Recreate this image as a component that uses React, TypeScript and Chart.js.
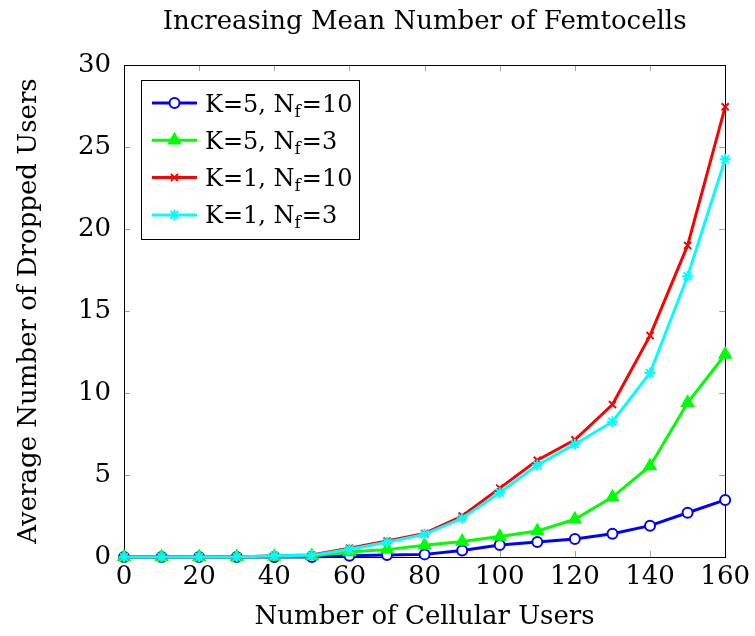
import React, { useEffect, useRef } from "react";
import { Chart, registerables } from "chart.js";
import { drawPoint } from "chart.js/helpers";

Chart.register(...registerables);

const FONT = "'DejaVu Serif', serif";

const cellularUsers = [0, 10, 20, 30, 40, 50, 60, 70, 80, 90, 100, 110, 120, 130, 140, 150, 160];
const k5nf10 = [0, 0, 0, 0, 0, 0, 0.08, 0.12, 0.16, 0.39, 0.73, 0.91, 1.1, 1.42, 1.91, 2.7, 3.48];
const k5nf3 = [0, 0, 0, 0, 0.03, 0.06, 0.3, 0.45, 0.72, 0.95, 1.25, 1.58, 2.3, 3.65, 5.55, 9.4, 12.35];
const k1nf10 = [0, 0, 0, 0, 0.08, 0.12, 0.53, 0.97, 1.44, 2.5, 4.2, 5.9, 7.15, 9.3, 13.5, 19.0, 27.45];
const k1nf3 = [0, 0, 0, 0, 0.07, 0.1, 0.47, 0.9, 1.38, 2.36, 3.92, 5.6, 6.88, 8.25, 11.22, 17.12, 24.25];

const seriesLabels = ["K=5, Nf=10", "K=5, Nf=3", "K=1, Nf=10", "K=1, Nf=3"];
const seriesColors = ["#0000ff", "#00ff00", "#ff0000", "#00ffff"];
const xTicks = [0, 20, 40, 60, 80, 100, 120, 140, 160];
const yTicks = [0, 5, 10, 15, 20, 25, 30];

const titleText = "Increasing Mean Number of Femtocells";
const xTitle = "Number of Cellular Users";
const yTitle = "Average Number of Dropped Users";

const markerStyles = [
  { pointStyle: "circle", radius: 5, fill: "#ffffff" },
  { pointStyle: "triangle", radius: 6.5, fill: null },
  { pointStyle: "crossRot", radius: 5, fill: null },
  { pointStyle: "star", radius: 5.5, fill: null },
];

const frameTicksPlugin = {
  id: "frameTicks",
  beforeDatasetsDraw(chart: any) {
    const { ctx, chartArea } = chart;
    const { left, right, top, bottom } = chartArea;
    const xs = chart.scales.x;
    const ys = chart.scales.y;
    ctx.save();
    ctx.strokeStyle = "#a0a0a0";
    ctx.lineWidth = 1;
    const tl = 6;
    ctx.beginPath();
    xTicks.forEach((v) => {
      const px = Math.round(xs.getPixelForValue(v)) + 0.5;
      ctx.moveTo(px, bottom);
      ctx.lineTo(px, bottom - tl);
      ctx.moveTo(px, top);
      ctx.lineTo(px, top + tl);
    });
    yTicks.forEach((v) => {
      const py = Math.round(ys.getPixelForValue(v)) + 0.5;
      ctx.moveTo(left, py);
      ctx.lineTo(left + tl, py);
      ctx.moveTo(right, py);
      ctx.lineTo(right - tl, py);
    });
    ctx.stroke();
    ctx.strokeStyle = "#000000";
    ctx.lineWidth = 1;
    ctx.strokeRect(Math.round(left) + 0.5, Math.round(top) + 0.5, Math.round(right - left), Math.round(bottom - top));
    ctx.restore();
  },
  afterDatasetsDraw(chart: any) {
    const { ctx, chartArea } = chart;
    const bx = chartArea.left + 17;
    const by = chartArea.top + 15;
    const bw = 218;
    const bh = 159;
    ctx.save();
    ctx.fillStyle = "#ffffff";
    ctx.fillRect(bx, by, bw, bh);
    ctx.strokeStyle = "#000000";
    ctx.lineWidth = 1;
    ctx.strokeRect(Math.round(bx) + 0.5, Math.round(by) + 0.5, bw, bh);
    chart.data.datasets.forEach((ds: any, i: number) => {
      const cy = by + 23 + i * 37.3;
      const x0 = bx + 11;
      const x1 = bx + 56;
      ctx.strokeStyle = ds.borderColor;
      ctx.lineWidth = 3;
      ctx.beginPath();
      ctx.moveTo(x0, cy);
      ctx.lineTo(x1, cy);
      ctx.stroke();
      const m = markerStyles[i];
      ctx.fillStyle = m.fill || ds.borderColor;
      ctx.strokeStyle = ds.borderColor;
      ctx.lineWidth = 2;
      drawPoint(ctx, { pointStyle: m.pointStyle, radius: m.radius, borderWidth: 2, rotation: 0 } as any, (x0 + x1) / 2, cy);
      const label: string = ds.label;
      const parts = label.split("Nf");
      ctx.fillStyle = "#000000";
      ctx.textBaseline = "alphabetic";
      ctx.textAlign = "left";
      ctx.font = `24px ${FONT}`;
      let tx = bx + 64;
      const base = cy + 8.5;
      const p1 = parts[0] + "N";
      ctx.fillText(p1, tx, base);
      tx += ctx.measureText(p1).width;
      ctx.font = `17px ${FONT}`;
      ctx.fillText("f", tx, base + 5);
      tx += ctx.measureText("f").width + 1;
      ctx.font = `24px ${FONT}`;
      ctx.fillText(parts[1], tx, base);
    });
    ctx.restore();
  },
};

export default function App() {
  const ref = useRef<HTMLCanvasElement | null>(null);
  useEffect(() => {
    document.body.style.margin = "0";
    const canvas = ref.current;
    if (!canvas) return;
    const seriesValues = [k5nf10, k5nf3, k1nf10, k1nf3];
    const datasets = seriesValues.map((vals, i) => ({
      label: seriesLabels[i],
      data: cellularUsers.map((x, j) => ({ x, y: vals[j] })),
      borderColor: seriesColors[i],
      backgroundColor: markerStyles[i].fill || seriesColors[i],
      borderWidth: 3,
      pointStyle: markerStyles[i].pointStyle,
      pointRadius: markerStyles[i].radius,
      pointBorderWidth: 2,
      pointBackgroundColor: markerStyles[i].fill || seriesColors[i],
      pointBorderColor: seriesColors[i],
      tension: 0,
      clip: false,
      order: 3 - i,
    }));
    const chart = new Chart(canvas, {
      type: "line",
      data: { datasets },
      plugins: [frameTicksPlugin],
      options: {
        responsive: false,
        animation: false,
        devicePixelRatio: 1,
        layout: { padding: { left: 0, right: 29, top: 0, bottom: 0 } },
        plugins: {
          legend: { display: false },
          tooltip: { enabled: false },
          title: {
            display: true,
            text: titleText,
            fullSize: false,
            color: "#000000",
            font: { family: FONT, size: 26, weight: "normal" },
            padding: { top: 7, bottom: 26.8 },
          },
        },
        scales: {
          x: {
            type: "linear",
            min: 0,
            max: 160,
            afterFit: (s: any) => { s.height = 79; },
            afterBuildTicks: (s: any) => { s.ticks = xTicks.map((v) => ({ value: v })); },
            grid: { display: false, drawTicks: false },
            border: { display: false },
            ticks: { color: "#000000", padding: 5, maxRotation: 0, font: { family: FONT, size: 26 } },
            title: {
              display: true,
              text: xTitle,
              color: "#000000",
              font: { family: FONT, size: 26 },
              padding: { top: 0, bottom: 3 },
            },
          },
          y: {
            type: "linear",
            min: 0,
            max: 30,
            afterFit: (s: any) => { s.width = 124; },
            afterBuildTicks: (s: any) => { s.ticks = yTicks.map((v) => ({ value: v })); },
            grid: { display: false, drawTicks: false },
            border: { display: false },
            ticks: { color: "#000000", padding: 13, font: { family: FONT, size: 26 } },
            title: {
              display: true,
              text: yTitle,
              color: "#000000",
              font: { family: FONT, size: 26 },
              padding: { top: 14, bottom: 0 },
            },
          },
        },
      } as any,
    });
    return () => chart.destroy();
  }, []);
  return <canvas ref={ref} width={755} height={636} style={{ display: "block" }} />;
}
